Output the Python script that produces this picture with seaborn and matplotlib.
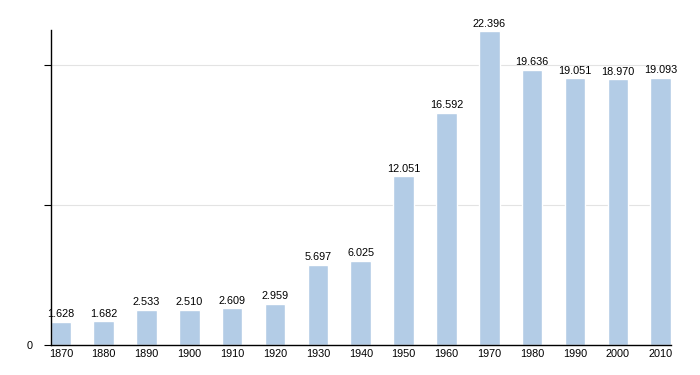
import matplotlib
matplotlib.use("Agg")
import matplotlib.pyplot as plt
import seaborn as sns
import pandas as pd

# Dati popolazione
years = [1870, 1880, 1890, 1900, 1910, 1920, 1930, 1940, 1950, 1960,
         1970, 1980, 1990, 2000, 2010]
population = [1628, 1682, 2533, 2510, 2609, 2959, 5697, 6025, 12051, 16592,
              22396, 19636, 19051, 18970, 19093]

df = pd.DataFrame({"anno": [str(y) for y in years], "abitanti": population})

sns.set_style("white")
plt.rcParams['font.family'] = ['Liberation Sans', 'DejaVu Sans']
plt.rcParams['text.color'] = 'black'
plt.rcParams['xtick.color'] = 'black'
plt.rcParams['ytick.color'] = 'black'

fig = plt.figure(figsize=(7, 3.75), dpi=100)
ax = fig.add_axes([50.5 / 700, 30 / 375, (671 - 50.5) / 700, (345 - 30) / 375])

sns.barplot(data=df, x="anno", y="abitanti", color="#b3cce6",
            saturation=1, width=0.48, ax=ax)

# Etichette sopra le barre, separatore delle migliaia col punto
labels = [f"{v:,}".replace(",", ".") for v in population]
ax.bar_label(ax.containers[0], labels=labels, padding=2, fontsize=7.8,
             color="black")

ax.set_xlim(-0.24, len(years) - 1 + 0.24)
ax.set_ylim(0, 22500)
ax.set_yticks([0, 10000, 20000])
ax.set_yticklabels(["0", "", ""])
ax.yaxis.grid(True, color="#e3e3e3", linewidth=0.8)
ax.set_axisbelow(True)

ax.set_xlabel("")
ax.set_ylabel("")
ax.tick_params(axis="x", bottom=False, length=0, labelsize=7.8, pad=3)
ax.tick_params(axis="y", left=True, length=5, width=0.8, labelsize=7.8,
               pad=8, color="black")

for side in ["top", "right"]:
    ax.spines[side].set_visible(False)
for side in ["left", "bottom"]:
    ax.spines[side].set_color("black")
    ax.spines[side].set_linewidth(1)

fig.savefig("out.png", dpi=100)
